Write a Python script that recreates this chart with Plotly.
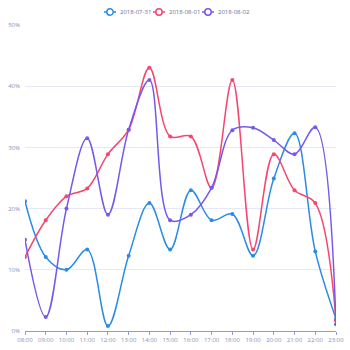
import plotly.graph_objects as go

hours = ["08:00", "09:00", "10:00", "11:00", "12:00", "13:00", "14:00", "15:00",
         "16:00", "17:00", "18:00", "19:00", "20:00", "21:00", "22:00", "23:00"]
series_names = ["2018-07-31", "2018-08-01", "2018-08-02"]
s_0731 = [21.2, 12.1, 10.0, 13.3, 0.8, 12.3, 20.9, 13.3, 23.0, 18.1, 19.1, 12.3, 24.9, 32.3, 13.0, 2.0]
s_0801 = [12.1, 18.1, 22.0, 23.3, 28.9, 32.9, 43.0, 31.8, 31.8, 23.4, 41.0, 13.3, 28.9, 23.0, 20.9, 1.7]
s_0802 = [14.9, 2.3, 20.0, 31.5, 19.0, 32.9, 41.0, 18.1, 19.0, 23.4, 32.8, 33.2, 31.2, 28.9, 33.3, 1.1]
y_ticks = [0, 10, 20, 30, 40, 50]
y_labels = ["0%", "10%", "20%", "30%", "40%", "50%"]

colors = ["#2b8be6", "#f7456f", "#7658ec"]

W = H = 350
ML, MR, MT, MB = 25, 14, 25, 19
PW, PH = W - ML - MR, H - MT - MB


def px_x(p):
    return (p - ML) / PW


def px_y(p):
    return 1 - (p - MT) / PH


fig = go.Figure()
for name, vals, c in zip(series_names, [s_0731, s_0801, s_0802], colors):
    fig.add_trace(go.Scatter(
        x=hours, y=vals, name=name, mode="lines+markers", showlegend=False,
        line=dict(color=c, width=1.5, shape="spline", smoothing=1.0),
        marker=dict(color=c, size=4, symbol="circle"),
    ))

# compact legend (line + hollow circle icon, then label)
leg_y = 12
pitch = 49
first_cx = 110
for i, (name, c) in enumerate(zip(series_names, colors)):
    cx = first_cx + i * pitch
    fig.add_shape(type="line", xref="paper", yref="paper",
                  x0=px_x(cx - 6), x1=px_x(cx + 6), y0=px_y(leg_y), y1=px_y(leg_y),
                  line=dict(color=c, width=1.5))
    fig.add_shape(type="circle", xref="paper", yref="paper",
                  x0=px_x(cx - 3.2), x1=px_x(cx + 3.2),
                  y0=px_y(leg_y + 3.2), y1=px_y(leg_y - 3.2),
                  line=dict(color=c, width=1.5), fillcolor="white")
    fig.add_annotation(text=name, xref="paper", yref="paper",
                       x=px_x(cx + 7.5), y=px_y(leg_y), xanchor="left", yanchor="middle",
                       showarrow=False,
                       font=dict(family="Open Sans", size=6, color="#6b7096"))

axis_font = dict(family="Open Sans", size=6, color="#8a90b8")
fig.update_layout(
    width=W, height=H,
    margin=dict(l=ML, r=MR, t=MT, b=MB),
    paper_bgcolor="white", plot_bgcolor="white",
    showlegend=False,
    xaxis=dict(type="category", range=[0, 15], showgrid=False, zeroline=False,
               showline=True, linecolor="#8c9bd4", linewidth=1,
               ticks="outside", ticklen=3, tickcolor="#8c9bd4",
               tickfont=axis_font, automargin=False),
    yaxis=dict(range=[0, 50], tickvals=y_ticks, ticktext=y_labels,
               showgrid=True, gridcolor="#e6e8f7", gridwidth=1, zeroline=False,
               showline=False, tickfont=axis_font, ticks="", ticklabelstandoff=4,
               automargin=False),
)
fig.write_html("out.html")
